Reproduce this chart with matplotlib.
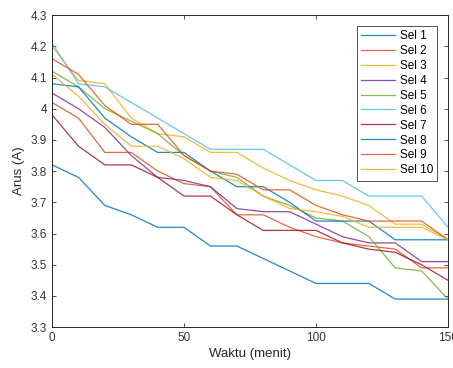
import matplotlib
matplotlib.use("Agg")
import matplotlib.pyplot as plt

plt.rcParams['font.family'] = ['Liberation Sans', 'DejaVu Sans']

waktu = [0, 10, 20, 30, 40, 50, 60, 70, 80, 90, 100, 110, 120, 130, 140, 150]

sel1 = [3.82, 3.78, 3.69, 3.66, 3.62, 3.62, 3.56, 3.56, 3.52, 3.48, 3.44, 3.44, 3.44, 3.39, 3.39, 3.39]
sel2 = [4.02, 3.97, 3.86, 3.86, 3.80, 3.76, 3.75, 3.66, 3.66, 3.62, 3.59, 3.57, 3.56, 3.55, 3.49, 3.49]
sel3 = [4.20, 4.09, 4.08, 3.97, 3.92, 3.91, 3.86, 3.86, 3.81, 3.77, 3.74, 3.72, 3.69, 3.63, 3.63, 3.58]
sel4 = [4.05, 4.00, 3.94, 3.85, 3.78, 3.77, 3.75, 3.68, 3.67, 3.67, 3.63, 3.59, 3.57, 3.57, 3.51, 3.51]
sel5 = [4.12, 4.07, 4.00, 3.96, 3.92, 3.85, 3.80, 3.78, 3.72, 3.69, 3.65, 3.64, 3.59, 3.49, 3.48, 3.39]
sel6 = [4.21, 4.08, 4.07, 4.02, 3.97, 3.92, 3.87, 3.87, 3.87, 3.82, 3.77, 3.77, 3.72, 3.72, 3.72, 3.62]
sel7 = [3.98, 3.88, 3.82, 3.82, 3.78, 3.72, 3.72, 3.66, 3.61, 3.61, 3.61, 3.57, 3.55, 3.54, 3.50, 3.45]
sel8 = [4.08, 4.07, 3.97, 3.91, 3.86, 3.86, 3.80, 3.75, 3.75, 3.70, 3.64, 3.64, 3.64, 3.58, 3.58, 3.58]
sel9 = [4.16, 4.11, 4.01, 3.95, 3.95, 3.85, 3.80, 3.79, 3.74, 3.74, 3.69, 3.66, 3.64, 3.64, 3.64, 3.58]
sel10 = [4.11, 4.04, 3.95, 3.88, 3.88, 3.84, 3.78, 3.77, 3.72, 3.68, 3.67, 3.655, 3.62, 3.62, 3.62, 3.58]

series = [sel1, sel2, sel3, sel4, sel5, sel6, sel7, sel8, sel9, sel10]
labels = ["Sel %d" % (i + 1) for i in range(len(series))]

# matlab default line colours
colors = ["#0072BD", "#D95319", "#EDB120", "#7E2F8E", "#77AC30",
          "#4DBEEE", "#A2142F", "#0072BD", "#D95319", "#EDB120"]

fig = plt.figure(figsize=(4.53, 3.68), dpi=100)
ax = fig.add_axes([0.115, 0.111, 0.874, 0.848])

for s, lab, c in zip(series, labels, colors):
    ax.plot(waktu, s, color=c, lw=0.9, alpha=0.85, label=lab)

ax.set_xlim(0, 150)
ax.set_ylim(3.3, 4.3)
ax.set_xticks([0, 50, 100, 150])
ax.set_yticks([3.3, 3.4, 3.5, 3.6, 3.7, 3.8, 3.9, 4.0, 4.1, 4.2, 4.3])
ax.set_yticklabels(["3.3", "3.4", "3.5", "3.6", "3.7", "3.8", "3.9", "4", "4.1", "4.2", "4.3"])
ax.tick_params(direction="in", top=True, right=True, labelsize=8.5,
               colors="#333333", length=3, width=0.6)
for sp in ax.spines.values():
    sp.set_color("#262626")
    sp.set_linewidth(0.7)

ax.set_xlabel("Waktu (menit)", fontsize=9.5, color="#262626", labelpad=3)
ax.set_ylabel("Arus (A)", fontsize=9.5, color="#262626", labelpad=4)

leg = ax.legend(loc="upper right", fontsize=8.5, frameon=True, fancybox=False,
                edgecolor="#262626", borderaxespad=0.9, handlelength=2.9,
                labelspacing=0.25, borderpad=0.35, handletextpad=0.4)
leg.get_frame().set_linewidth(0.7)

fig.savefig("out.png", dpi=100)
